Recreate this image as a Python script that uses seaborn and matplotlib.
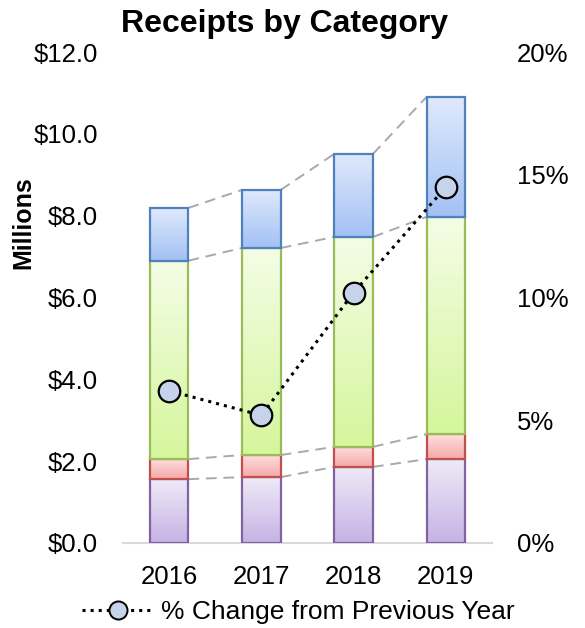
import numpy as np
import pandas as pd
import matplotlib
matplotlib.use('Agg')
import matplotlib.pyplot as plt
from matplotlib.colors import LinearSegmentedColormap
from matplotlib.lines import Line2D
import seaborn as sns

# data (millions of $ / percent)
years = ['2016', '2017', '2018', '2019']
purple_vals = [1.56, 1.61, 1.86, 2.05]
red_vals = [0.49, 0.54, 0.49, 0.61]
green_vals = [4.85, 5.06, 5.13, 5.31]
blue_vals = [1.29, 1.42, 2.03, 2.93]
pct_change = [6.2, 5.2, 10.2, 14.5]

ytick_vals = [0, 2, 4, 6, 8, 10, 12]
pct_ticks = [0, 5, 10, 15, 20]

sns.set_style('white')
plt.rcParams['font.family'] = ['Liberation Sans', 'DejaVu Sans']
plt.rcParams['text.color'] = 'black'
plt.rcParams['axes.labelcolor'] = 'black'
plt.rcParams['xtick.color'] = 'black'
plt.rcParams['ytick.color'] = 'black'

layers = [
    ('purple', purple_vals, '#efeaf8', '#c6b2e4', '#8064a2'),
    ('red', red_vals, '#fde0e0', '#f6a8a8', '#c0504d'),
    ('green', green_vals, '#f4fde6', '#d5f69c', '#9bbb59'),
    ('blue', blue_vals, '#dfe9fc', '#a3c1f4', '#4f81bd'),
]

fig = plt.figure(figsize=(5.85, 6.28), dpi=100)
ax = fig.add_axes([123/585, 85/628, 369/585, 491/628])
bw = 0.42

bottom = np.zeros(len(years))
tops = []
for i, (name, vals, ctop, cbot, edge) in enumerate(layers):
    df = pd.DataFrame({'year': years, 'val': vals})
    n_before = len(ax.patches)
    sns.barplot(data=df, x='year', y='val', order=years, bottom=bottom,
                width=bw, color=ctop, edgecolor=edge, linewidth=1.6,
                ax=ax, zorder=3 + i)
    cmap = LinearSegmentedColormap.from_list(name, [cbot, ctop])
    grad = np.linspace(0, 1, 256).reshape(-1, 1)
    for p in ax.patches[n_before:]:
        x0, y0 = p.get_x(), p.get_y()
        w, h = p.get_width(), p.get_height()
        im = ax.imshow(grad, extent=[x0, x0 + w, y0, y0 + h], origin='lower',
                       cmap=cmap, aspect='auto', zorder=2.9 + i,
                       interpolation='bilinear')
        im.set_clip_path(p)
        p.set_facecolor('none')
    bottom = bottom + np.array(vals)
    tops.append(bottom.copy())

# series connector lines between bars
pos = np.arange(len(years))
for level in tops:
    for j in range(len(years) - 1):
        ax.plot([pos[j] + bw / 2, pos[j + 1] - bw / 2], [level[j], level[j + 1]],
                color='#a9a9a9', ls=(0, (5.5, 3.5)), lw=1.4, zorder=2)

ax.set_xlim(-0.5, len(years) - 0.5)
ax.set_ylim(0, 12)
ax.set_yticks(ytick_vals)
ax.set_yticklabels(['${:.1f}'.format(v) for v in ytick_vals])
ax.set_xlabel('')
ax.set_ylabel('Millions', fontsize=18, fontweight='bold')
ax.yaxis.set_label_coords(-0.238, 0.652)
ax.tick_params(axis='both', length=0, labelsize=18.5)
ax.tick_params(axis='y', pad=18)
ax.tick_params(axis='x', pad=16)
for s in ['top', 'right', 'left']:
    ax.spines[s].set_visible(False)
ax.spines['bottom'].set_color('#d9d9d9')
ax.spines['bottom'].set_linewidth(1.5)
fig.suptitle('Receipts by Category', fontsize=23, fontweight='bold',
             x=0.487, y=0.985, va='top')

ax2 = ax.twinx()
sns.lineplot(x=pos, y=pct_change, ax=ax2, color='black', linestyle=':', lw=2.2,
             marker='o', markersize=15.5, markerfacecolor='#c5d4ea',
             markeredgecolor='black', markeredgewidth=1.6, zorder=10)
ax2.set_ylim(0, 20)
ax2.set_yticks(pct_ticks)
ax2.set_yticklabels(['{}%'.format(v) for v in pct_ticks])
ax2.tick_params(axis='y', length=0, labelsize=18.5, pad=18)
ax2.set_ylabel('')
for s in ax2.spines.values():
    s.set_visible(False)
ax.set_xlim(-0.5, len(years) - 0.5)

handle = Line2D([], [], color='black', linestyle=':', lw=2.2, marker='o',
                markersize=13, markerfacecolor='#c5d4ea', markeredgecolor='black',
                markeredgewidth=1.4)
fig.legend([handle], ['% Change from Previous Year'], loc='center',
           bbox_to_anchor=(0.51, 0.025), frameon=False, fontsize=19,
           handlelength=2.7, handletextpad=0.3)

fig.savefig('out.png', dpi=100)
